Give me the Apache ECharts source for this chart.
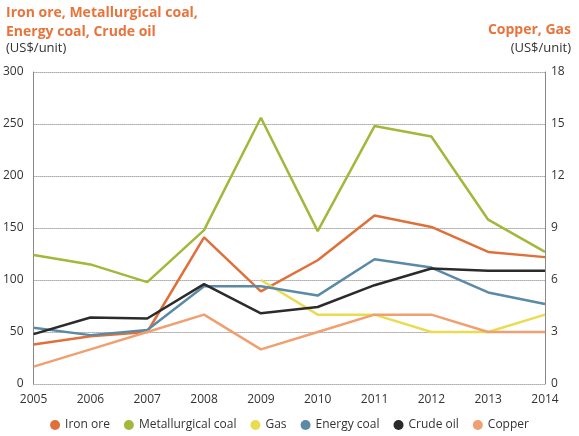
<!DOCTYPE html><html><head><meta charset="utf-8"><script src="https://cdn.jsdelivr.net/npm/echarts@6/dist/echarts.min.js"></script></head><body style="margin:0"><div id="c" style="width:579px;height:436px"></div><script>
const years=['2005','2006','2007','2008','2009','2010','2011','2012','2013','2014'];
const ironOre=[38,46,50,141,89,119,162,151,127,122];
const metCoal=[124,115,98,148,256,147,248,238,158,127];
const gas=[null,null,null,null,6,4,4,3,3,4];
const energyCoal=[54,47,52,94,94,85,120,112,88,77];
const crudeOil=[48,64,63,96,68,74,95,111,109,109];
const copper=[1,2,3,4,2,3,4,4,3,3];
const F='"Open Sans", sans-serif';
const mk=(n,d,c,ax)=>({name:n,type:'line',data:d,yAxisIndex:ax,symbol:'none',lineStyle:{width:2.5,color:c},itemStyle:{color:c}});
const ch=echarts.init(document.getElementById('c'));
ch.setOption({
textStyle:{fontFamily:F},
graphic:[
{type:'text',left:6,top:4,style:{text:'Iron ore, Metallurgical coal,\nEnergy coal, Crude oil',fill:'#e8743b',font:'bold 14px '+F,lineHeight:19}},
{type:'text',left:6,top:42,style:{text:'(US$/unit)',fill:'#333',font:'13px '+F}},
{type:'text',right:8,top:23,style:{text:'Copper, Gas',fill:'#e8743b',font:'bold 14px '+F,align:'right'}},
{type:'text',right:8,top:42,style:{text:'(US$/unit)',fill:'#333',font:'13px '+F,align:'right'}}],
legend:{bottom:0,left:'center',icon:'circle',itemWidth:10,itemHeight:10,itemGap:14,textStyle:{fontSize:12,color:'#333'}},
grid:{left:33,right:34,top:72,bottom:52},
xAxis:{type:'category',data:years,boundaryGap:false,axisLine:{show:false},axisTick:{show:false},axisLabel:{color:'#333',fontSize:12,margin:10}},
yAxis:[{type:'value',min:0,max:300,interval:50,axisLine:{show:true,lineStyle:{color:'#888'}},axisLabel:{color:'#333',fontSize:12,margin:10},splitLine:{lineStyle:{type:'dotted',color:'#777'}}},
{type:'value',min:0,max:18,interval:3,position:'right',axisLine:{show:true,lineStyle:{color:'#888'}},axisLabel:{color:'#333',fontSize:12,margin:6},splitLine:{show:false}}],
series:[mk('Iron ore',ironOre,'#e0703a',0),mk('Metallurgical coal',metCoal,'#a3b83a',0),mk('Gas',gas,'#e8dc52',1),mk('Energy coal',energyCoal,'#5b8aa6',0),mk('Crude oil',crudeOil,'#2b2b2b',0),mk('Copper',copper,'#f0a070',1)]
});
</script></body></html>
